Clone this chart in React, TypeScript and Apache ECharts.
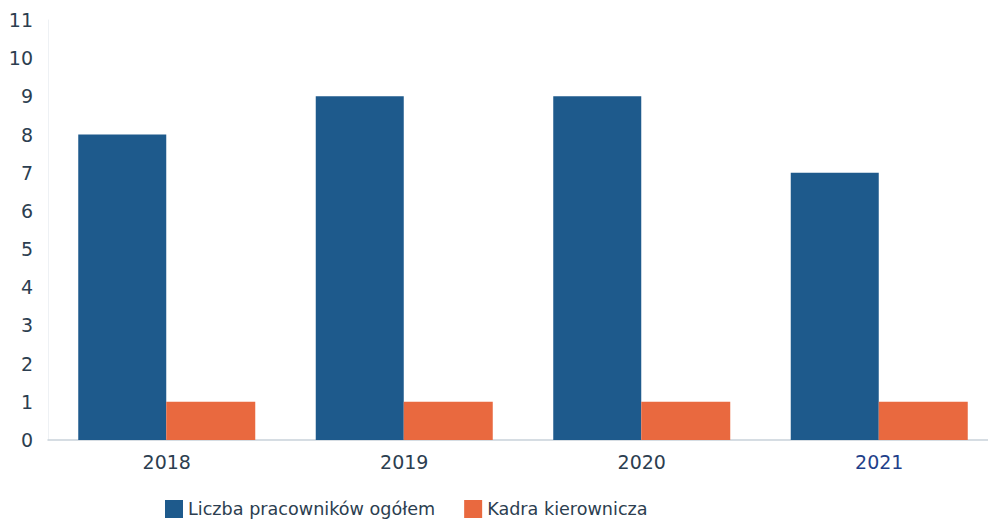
import React, { useEffect, useRef } from "react";
import * as echarts from "echarts";

const categories = ["2018", "2019", "2020", "2021"];
const totalEmployees = [8, 9, 9, 7];
const management = [1, 1, 1, 1];
const seriesNames = ["Liczba pracowników ogółem", "Kadra kierownicza"];

export default function App() {
  const ref = useRef<HTMLDivElement>(null);
  useEffect(() => {
    if (!ref.current) return;
    const chart = echarts.init(ref.current, null, { renderer: "svg" });
    chart.setOption({
      animation: false,
      backgroundColor: "#ffffff",
      grid: { left: 48, top: 20, width: 950, height: 420 },
      legend: {
        left: 160,
        top: 495,
        itemWidth: 18,
        itemHeight: 18,
        itemGap: 29,
        icon: "rect",
        textStyle: { fontFamily: "DejaVu Sans", fontSize: 17.6, color: "#2c3e50" },
        data: seriesNames,
      },
      xAxis: {
        type: "category",
        data: categories,
        axisLine: { lineStyle: { color: "#c9d2da", width: 1.5 } },
        axisTick: { show: false },
        axisLabel: {
          fontFamily: "DejaVu Sans",
          fontSize: 19,
          margin: 12,
          color: (v: string) => (v === "2021" ? "#1f3f8a" : "#2c3e50"),
        },
      },
      yAxis: {
        type: "value",
        min: 0,
        max: 11,
        interval: 1,
        axisLine: { show: true, lineStyle: { color: "#eef1f4", width: 1 } },
        axisTick: { show: false },
        splitLine: { show: false },
        axisLabel: {
          fontFamily: "DejaVu Sans",
          fontSize: 19,
          margin: 15,
          color: "#2c3e50",
        },
      },
      series: [
        {
          name: seriesNames[0],
          type: "bar",
          data: totalEmployees,
          barWidth: 88,
          barGap: "0%",
          itemStyle: { color: "#1e5a8c" },
        },
        {
          name: seriesNames[1],
          type: "bar",
          data: management,
          barWidth: 89,
          barGap: "0%",
          itemStyle: { color: "#e9693f" },
        },
      ],
    });
    return () => chart.dispose();
  }, []);
  return (
    <div style={{ position: "fixed", left: 0, top: 0, width: 988, height: 522, overflow: "hidden" }}>
      <div ref={ref} style={{ width: 1010, height: 522 }} />
    </div>
  );
}
